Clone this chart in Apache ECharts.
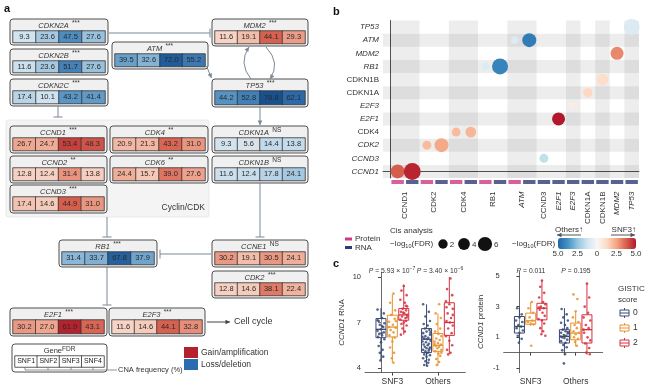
<!DOCTYPE html>
<html><head><meta charset="utf-8">
<script src="https://cdn.jsdelivr.net/npm/echarts@6/dist/echarts.min.js"></script>
<style>html,body{margin:0;padding:0;background:#fff}#c{width:650px;height:389px}</style>
</head><body><div id="c"></div><script>
const FONT = '"Liberation Sans", Arial, sans-serif';

// ---------------- Panel a data ----------------
const snfCols = ['SNF1','SNF2','SNF3','SNF4'];
const aGenes = ['CDKN2A','CDKN2B','CDKN2C','ATM','MDM2','TP53','CCND1','CDK4','CCND2','CDK6','CCND3','CDKN1A','CDKN1B','RB1','CCNE1','CDK2','E2F1','E2F3'];
const aType  = ['loss','loss','loss','loss','gain','loss','gain','gain','gain','gain','gain','loss','loss','loss','gain','gain','gain','gain'];
const aSig   = ['***','***','***','***','***','***','***','**','**','**','***','NS','NS','***','NS','***','***','***'];
const aFreq  = [
  [9.3,23.6,47.5,27.6],[11.6,23.6,51.7,27.6],[17.4,10.1,43.2,41.4],[39.5,32.6,72.0,55.2],
  [11.6,19.1,44.1,29.3],[44.2,52.8,78.8,62.1],[26.7,24.7,53.4,48.3],[20.9,21.3,43.2,31.0],
  [12.8,12.4,31.4,13.8],[24.4,15.7,39.0,27.6],[17.4,14.6,44.9,31.0],[9.3,5.6,14.4,13.8],
  [11.6,12.4,17.8,24.1],[31.4,33.7,67.8,37.9],[30.2,19.1,30.5,24.1],[12.8,14.6,38.1,22.4],
  [30.2,27.0,61.9,43.1],[11.6,14.6,44.1,32.8]
];

// ---------------- Panel b data ----------------
const bRows = ['CCND1','CCND3','CDK2','CDK4','E2F1','E2F3','CDKN1A','CDKN1B','RB1','MDM2','ATM','TP53'];
const bCols = ['CCND1','CCND1','CDK2','CDK2','CDK4','CDK4','RB1','RB1','ATM','ATM','CCND3','E2F1','E2F3','CDKN1A','CDKN1B','MDM2','TP53'];
const bColType = ['Protein','RNA','Protein','RNA','Protein','RNA','Protein','RNA','Protein','RNA','RNA','RNA','RNA','RNA','RNA','RNA','RNA'];
const bLogFDR = [5.8,8.3,1.6,5.8,1.6,3.2,0.8,7.5,0.3,5.8,1.6,5.0,0.8,2.0,4.0,5.0,7.5];
const bEffect = [3.8,4.8,2.0,2.4,2.0,2.1,-0.9,-4.2,-0.8,-4.4,-1.5,5.0,0.5,1.3,1.1,3.0,-0.9];
const bSizeLegend = [2,4,6];
const bColorTicks = ['5.0','2.5','0','2.5','5.0'];

// ---------------- Panel c data ----------------
const cGroups = ['SNF3','Others'];
const gisticLevels = ['0','1','2'];
// [low whisker, Q1, median, Q3, high whisker] for SNF3, Others
const rnaBox0 = [[4.5,6.0,6.55,7.26,7.95],[4.15,5.02,5.9,6.6,8.2]];
const rnaBox1 = [[4.37,6.05,6.7,7.48,8.85],[4.15,5.1,5.5,6.28,7.6]];
const rnaBox2 = [[6.2,7.15,7.5,7.92,9.5],[4.95,6.15,7.0,8.3,10.0]];
const protBox0 = [[0.63,1.28,1.71,2.36,2.94],[-0.13,0.63,1.06,1.5,2.9]];
const protBox1 = [[1.75,1.85,2.08,2.58,3.3],[0.41,0.84,1.28,1.93,2.68]];
const protBox2 = [[1.28,2.14,2.9,3.22,4.74],[-0.13,0.63,1.5,2.47,4.52]];
const rnaP = ['5.93','−7','3.40','−6'];
const protP = ['0.011','0.195'];
// jittered points: [group position + jitter, value]
const rnaPts0 = [[-0.3,7.85],[0.25,7.6],[0.1,7.3],[-0.2,7.1],[0.3,6.95],[-0.1,6.85],[0.2,6.7],[0.0,6.55],[-0.3,6.45],[0.25,6.35],[-0.15,6.25],[0.1,6.15],[-0.25,6.05],[0.3,5.9],[0.0,5.7],[-0.2,5.45],[0.15,5.2],[-0.1,5.0],[0.2,4.75],[-0.05,4.5],[0.1,6.75],[-0.3,7.15],[0.05,6.3],
 [3.7,8.2],[4.2,7.7],[3.9,7.4],[4.3,7.1],[3.75,6.9],[4.1,6.8],[3.85,6.6],[4.25,6.5],[4.0,6.4],[3.7,6.3],[4.3,6.2],[3.9,6.1],[4.15,6.0],[3.8,5.95],[4.05,5.9],[4.35,5.8],[3.65,5.75],[3.95,5.7],[4.2,5.6],[3.75,5.55],[4.1,5.5],[3.85,5.4],[4.3,5.35],[4.0,5.3],[3.7,5.2],[4.2,5.15],[3.9,5.1],[4.1,5.0],[3.8,4.9],[4.3,4.85],[4.0,4.75],[3.7,4.65],[4.2,4.55],[3.9,4.45],[4.15,4.35],[3.8,4.2],[4.05,4.15],[4.35,6.35],[3.65,6.05],[4.25,5.25]];
const rnaPts1 = [[1.1,8.9],[0.8,8.3],[1.25,7.8],[0.9,7.5],[1.2,7.25],[0.7,7.05],[1.05,6.85],[1.3,6.65],[0.85,6.5],[1.1,6.35],[0.75,6.15],[1.2,6.0],[1.0,5.75],[0.8,5.35],[1.15,5.0],[0.95,4.65],[1.1,4.35],[1.3,7.1],[0.7,6.7],
 [5.1,8.2],[4.8,7.6],[5.25,7.3],[4.9,6.9],[5.2,6.6],[4.75,6.4],[5.05,6.25],[5.3,6.1],[4.85,5.95],[5.15,5.85],[4.7,5.75],[5.0,5.65],[5.25,5.55],[4.8,5.45],[5.1,5.4],[4.95,5.3],[5.3,5.2],[4.75,5.1],[5.05,4.95],[5.2,4.8],[4.85,4.6],[5.1,4.4],[4.9,4.2],[5.3,5.0],[4.7,5.6]];
const rnaPts2 = [[2.0,9.4],[1.8,9.1],[2.25,8.8],[1.7,8.5],[2.1,8.3],[2.3,8.05],[1.9,7.9],[2.2,7.8],[1.75,7.7],[2.05,7.6],[2.3,7.5],[1.85,7.4],[2.15,7.3],[1.7,7.2],[2.2,7.1],[2.0,7.0],[1.8,6.9],[2.25,6.8],[1.9,6.6],[2.1,6.4],[1.75,6.2],[2.3,7.35],[1.95,7.65],[2.2,8.1],
 [6.1,9.9],[5.8,9.2],[6.25,8.8],[5.7,8.4],[6.0,8.2],[6.3,7.9],[5.85,7.6],[6.15,7.3],[5.75,7.1],[6.05,7.0],[6.3,6.8],[5.9,6.6],[6.2,6.3],[5.7,6.1],[6.0,5.8],[6.25,5.5],[5.8,5.2],[6.1,5.0],[5.9,4.9],[6.3,7.5],[5.75,8.0]];
const protPts0 = [[-0.2,2.9],[0.2,2.5],[0.0,2.3],[-0.3,2.1],[0.25,2.0],[-0.1,1.8],[0.15,1.7],[-0.25,1.6],[0.3,1.45],[0.0,1.3],[-0.15,1.1],[0.2,0.9],[-0.05,0.65],
 [3.75,2.85],[4.2,2.5],[3.9,2.3],[4.3,2.1],[3.7,1.95],[4.05,1.8],[4.25,1.6],[3.85,1.5],[4.1,1.4],[3.7,1.3],[4.3,1.25],[3.95,1.15],[4.15,1.1],[3.8,1.0],[4.0,0.95],[4.25,0.85],[3.7,0.75],[4.1,0.65],[3.9,0.5],[4.2,0.35],[3.8,0.15],[4.05,-0.1],[3.95,-0.7],[4.3,1.35],[3.65,1.05]];
const protPts1 = [[1.1,3.3],[0.8,2.9],[1.2,2.6],[0.9,2.3],[1.15,2.1],[0.75,2.0],[1.0,1.9],[1.25,1.85],[1.05,0.45],
 [4.8,3.8],[5.15,3.5],[5.0,2.7],[4.75,2.3],[5.25,2.0],[4.9,1.8],[5.1,1.6],[4.8,1.4],[5.3,1.3],[5.0,1.2],[4.85,1.0],[5.2,0.9],[4.95,0.7],[5.1,0.45]];
const protPts2 = [[2.0,4.7],[1.85,4.3],[2.2,3.9],[1.75,3.6],[2.1,3.3],[2.3,3.15],[1.9,3.0],[2.15,2.9],[1.8,2.8],[2.05,2.6],[2.25,2.4],[1.7,2.2],[2.0,2.1],[2.2,1.9],[1.85,1.6],[2.1,1.4],[1.95,1.2],[2.3,1.1],[1.75,2.95],
 [6.0,4.5],[6.2,3.6],[5.8,3.0],[6.1,2.6],[5.7,2.3],[6.3,2.1],[5.9,1.8],[6.15,1.6],[5.75,1.3],[6.05,1.0],[6.3,0.8],[5.85,0.6],[6.2,0.3],[5.95,0.0],[6.25,-0.1],[5.7,1.5]];

// ---------------- layout / style ----------------
const aBox = {
  CDKN2A:[10,19,98,26], CDKN2B:[10,49,98,26], CDKN2C:[10,79,98,27], ATM:[112,42,96,27],
  MDM2:[212,19,96,27], TP53:[212,79,96,28], CCND1:[10,126,97,27], CDK4:[110,126,98,27],
  CCND2:[10,156,97,27], CDK6:[110,156,98,27], CCND3:[10,185,97,28], CDKN1A:[212,126,96,27],
  CDKN1B:[212,156,96,27], RB1:[59,240,98,27], CCNE1:[212,240,96,27], CDK2:[212,271,96,27],
  E2F1:[10,308,97,28], E2F3:[109,308,96,28]
};
const bShadedGenes = ['CCND1','CDK4','ATM','E2F3','CDKN1B','TP53'];
const LC = '#7b8797';
const TXT = '#333';
const lvlColors = ['#3a4a74','#e8922e','#d52f3d'];
const typeColors = {Protein:'#cf3a82', RNA:'#2f3a78'};

const G = [];
function rect(x,y,w,h,fill,stroke,r,lw,z){G.push({type:'rect',shape:{x:x,y:y,width:w,height:h,r:r||0},style:{fill:fill,stroke:stroke||null,lineWidth:lw||0},z:z||0,silent:true});}
function line(x1,y1,x2,y2,stroke,lw){G.push({type:'line',shape:{x1:x1,y1:y1,x2:x2,y2:y2},style:{stroke:stroke||LC,lineWidth:lw||1},silent:true,z:1});}
function text(x,y,t,o){G.push({type:'text',x:x,y:y,style:Object.assign({text:t,fontFamily:FONT,fontSize:8,fill:TXT,align:'left',verticalAlign:'middle'},o||{}),silent:true,z:3});}
function head(x,y,ang,col){const s=4.5,w=2.3;const bx=x-Math.cos(ang)*s,by=y-Math.sin(ang)*s;
  G.push({type:'polygon',shape:{points:[[x,y],[bx-Math.sin(ang)*w,by+Math.cos(ang)*w],[bx+Math.sin(ang)*w,by-Math.cos(ang)*w]]},style:{fill:col||LC},silent:true,z:1});}
function arrow(x1,y1,x2,y2,col){line(x1,y1,x2,y2,col);head(x2,y2,Math.atan2(y2-y1,x2-x1),col);}
function tbar(x1,y1,x2,y2){line(x1,y1,x2,y2);const dx=x2-x1,dy=y2-y1,L=Math.hypot(dx,dy),nx=-dy/L*4.5,ny=dx/L*4.5;line(x2+nx,y2+ny,x2-nx,y2-ny);}

const grids=[],xAxes=[],yAxes=[],series=[];
function addGrid(g,x,y){grids.push(g);const i=grids.length-1;x.gridIndex=i;y.gridIndex=i;xAxes.push(x);yAxes.push(y);return i;}

// ---------- Panel a ----------
text(4,9,'a',{fontSize:11,fontWeight:'bold',fill:'#111'});
rect(6,120,203,97,'#f4f4f4','#e6e6e6',2,0.8,-2);
text(205,208,'Cyclin/CDK',{align:'right',fontSize:8.5});
const titleRich = {g:{fontSize:7.5,fontStyle:'italic',fill:TXT,lineHeight:10,verticalAlign:'middle',fontFamily:FONT},
                   s:{fontSize:6.5,fill:TXT,lineHeight:7,verticalAlign:'top',fontFamily:FONT},
                   n:{fontSize:7.5,fill:TXT,lineHeight:10,verticalAlign:'middle',fontFamily:FONT}};
const aSeriesIdx = [];
aGenes.forEach(function(g,i){
  const b = aBox[g];
  rect(b[0],b[1],b[2],b[3],'#f0f0f0','#4f4f4f',3,1,-1);
  G.push({type:'text',x:b[0]+b[2]/2,y:b[1]+6.5,style:{text:'{g|'+g+'} {s|'+aSig[i]+'}',rich:titleRich,align:'center',verticalAlign:'middle'},silent:true,z:3});
  const gi = addGrid({left:b[0]+3,top:b[1]+12,width:b[2]-6,height:b[3]-14.5},
    {type:'category',data:snfCols,show:false},{type:'category',data:[g],show:false});
  aSeriesIdx.push(series.length);
  series.push({type:'heatmap',xAxisIndex:gi,yAxisIndex:gi,silent:true,z:5,
    data:aFreq[i].map(function(v,j){return [j,0,aType[i]==='gain'?v:-v];}),
    itemStyle:{borderColor:'#333',borderWidth:0.8},
    label:{show:true,fontSize:7.5,color:'#2a2a2a',fontFamily:FONT,formatter:function(p){return Math.abs(p.value[2]).toFixed(1);}},
    emphasis:{disabled:true}});
});
// gene legend box
rect(12,344,95,28,'#ffffff','#4f4f4f',3,1,-1);
G.push({type:'text',x:59.5,y:351,style:{text:'{n|Gene}{s|FDR}',rich:titleRich,align:'center',verticalAlign:'middle'},silent:true,z:3});
const lgi = addGrid({left:15,top:356,width:89,height:11},{type:'category',data:snfCols,show:false},{type:'category',data:['Gene'],show:false});
series.push({type:'heatmap',xAxisIndex:lgi,yAxisIndex:lgi,silent:true,z:5,
  data:snfCols.map(function(s,j){return {value:[j,0,0],itemStyle:{color:'#fff'}};}),
  itemStyle:{borderColor:'#333',borderWidth:0.8,color:'#fff'},
  label:{show:true,fontSize:7,color:'#222',fontFamily:FONT,formatter:function(p){return snfCols[p.value[0]];}},
  emphasis:{disabled:true}});
// bracket
line(25,370,93,370,'#777',0.8);[25,48,71,93].forEach(function(x){line(x,367.5,x,370,'#777',0.8);});
line(93,370,117,370,'#777',0.8);
text(118,370,'CNA frequency (%)',{fontSize:7.5});
// gain/loss legend
rect(184,347,14,11,'#b5202e',null,0,0,1);
rect(184,359,14,11,'#2b6cb0',null,0,0,1);
text(201,352.5,'Gain/amplification',{fontSize:8.5});
text(201,364.5,'Loss/deletion',{fontSize:8.5});
// connectors
tbar(109,33,210,33);
arrow(206.5,66,211.5,78);
G.push({type:'bezierCurve',shape:{x1:251,y1:79,x2:249,y2:47,cpx1:238,cpy1:63},style:{stroke:LC,fill:'none',lineWidth:1},silent:true,z:1});
head(249,47,Math.atan2(47-63,249-238));
G.push({type:'bezierCurve',shape:{x1:266,y1:47,x2:270,y2:79,cpx1:281,cpy1:63},style:{stroke:LC,fill:'none',lineWidth:1},silent:true,z:1});
head(270,79,Math.atan2(79-63,270-281));
arrow(260,107,260,125);
tbar(58,106,58,117);
tbar(260,183,260,237);
tbar(107,217,107,237);
tbar(211,254,160,254);
tbar(107,267,107,305);
arrow(207,322,230,322,'#444');
text(234,322,'Cell cycle',{fontSize:9});

// ---------- Panel b ----------
text(333,12,'b',{fontSize:11,fontWeight:'bold',fill:'#111'});
const bIdx = addGrid({left:383,top:20.5,width:256,height:157.5},
  {type:'value',min:-0.5,max:17,axisLine:{show:true,lineStyle:{color:'#555',width:1}},axisTick:{show:false},axisLabel:{show:false},splitLine:{show:false}},
  {type:'value',min:-0.5,max:11.5,axisLine:{show:true,lineStyle:{color:'#555',width:1}},axisTick:{show:false},splitLine:{show:false},
   axisLabel:{customValues:bRows.map(function(r,i){return i;}),fontSize:8,color:TXT,fontFamily:FONT,margin:4,
     formatter:function(v){const n=bRows[Math.round(v)];return (['CDKN1B','CDKN1A','CDK4'].indexOf(n)>=0)?n:'{i|'+n+'}';},
     rich:{i:{fontStyle:'italic',fontSize:8,color:TXT,fontFamily:FONT}}}});
const rowBands = bRows.map(function(r,i){return i;}).filter(function(i){return i%2===0;}).map(function(i){return [{yAxis:i-0.5},{yAxis:i+0.5}];});
const geneOrder = []; bCols.forEach(function(g){if(geneOrder.indexOf(g)<0)geneOrder.push(g);});
const geneCenter = geneOrder.map(function(g){let s=0,n=0;bCols.forEach(function(c,i){if(c===g){s+=i+0.5;n++;}});return s/n;});
const geneSpan = geneOrder.map(function(g){const idx=[];bCols.forEach(function(c,i){if(c===g)idx.push(i);});return [idx[0],idx[idx.length-1]+1];});
const colBands = geneSpan.filter(function(s,i){return bShadedGenes.indexOf(geneOrder[i])>=0;}).map(function(s){return [{xAxis:s[0]},{xAxis:s[1]}];});
series.push({type:'scatter',xAxisIndex:bIdx,yAxisIndex:bIdx,data:[],silent:true,z:1,
  markArea:{silent:true,itemStyle:{color:'rgba(0,0,0,0.07)'},data:rowBands.concat(colBands)}});
const bScatterIdx = series.length;
series.push({type:'scatter',xAxisIndex:bIdx,yAxisIndex:bIdx,z:4,silent:true,
  data:bCols.map(function(g,i){return [i+0.5,bRows.indexOf(g),bLogFDR[i],bEffect[i]];}),
  symbolSize:function(d){return 7+1.2*d[2];},itemStyle:{opacity:1}});
// type bars + x labels
const b2 = addGrid({left:383,top:179.5,width:256,height:5},
  {type:'value',min:-0.5,max:17,axisLine:{show:false},axisTick:{show:false},splitLine:{show:false},
   axisLabel:{customValues:geneCenter,rotate:90,margin:7,fontSize:8,color:TXT,fontFamily:FONT,
     formatter:function(v){let k=0,best=1e9;geneCenter.forEach(function(c,i){if(Math.abs(c-v)<best){best=Math.abs(c-v);k=i;}});const n=geneOrder[k];
       return (['ATM','E2F1','E2F3','MDM2','TP53'].indexOf(n)>=0)?'{i|'+n+'}':n;},
     rich:{i:{fontStyle:'italic',fontSize:8,color:TXT,fontFamily:FONT}}}},
  {type:'value',min:-1,max:1,show:false});
series.push({type:'scatter',xAxisIndex:b2,yAxisIndex:b2,silent:true,symbol:'rect',symbolSize:[12.4,4],
  data:bCols.map(function(g,i){return {value:[i+0.5,0],itemStyle:{color:typeColors[bColType[i]]}};})});
// legends b
rect(345,237.5,7,3,typeColors.Protein,null,0,0,1);
rect(345,246,7,3,typeColors.RNA,null,0,0,1);
text(355,239,'Protein',{fontSize:8});
text(355,247.5,'RNA',{fontSize:8});
text(390,231,'Cis analysis',{fontSize:8});
const subRich = {a:{fontSize:8,fill:TXT,lineHeight:10,verticalAlign:'middle',fontFamily:FONT},
                 b:{fontSize:5.5,fill:TXT,lineHeight:6,verticalAlign:'bottom',fontFamily:FONT}};
G.push({type:'text',x:390,y:244,style:{text:'{a|−log}{b|10}{a|(FDR)}',rich:subRich,align:'left',verticalAlign:'middle'},silent:true,z:3});
G.push({type:'text',x:512,y:244,style:{text:'{a|−log}{b|10}{a|(FDR)}',rich:subRich,align:'left',verticalAlign:'middle'},silent:true,z:3});
const sizeLegX = [443,464,485];
bSizeLegend.forEach(function(v,i){const d=7+1.2*v;G.push({type:'circle',shape:{cx:sizeLegX[i],cy:244,r:d/2},style:{fill:'#111'},silent:true,z:3});
  text(sizeLegX[i]+d/2+2,244.5,String(v),{fontSize:8});});
text(555,230,'Others↑',{fontSize:8});
text(636,230,'SNF3↑',{fontSize:8,align:'right'});
arrow(581,235,557,235,'#555');
arrow(611,235,635,235,'#555');
const cbX=[558,577.5,597,616.5,636];
bColorTicks.forEach(function(t,i){text(cbX[i],254,t,{fontSize:8,align:'center'});});

// ---------- Panel c ----------
text(333,264,'c',{fontSize:11,fontWeight:'bold',fill:'#111'});
function boxRender(params,api){
  const x=api.value(0),lv=api.value(6),c=lvlColors[lv];
  const pLo=api.coord([x,api.value(1)]),pQ1=api.coord([x,api.value(2)]),pMd=api.coord([x,api.value(3)]),pQ3=api.coord([x,api.value(4)]),pHi=api.coord([x,api.value(5)]);
  const hw=5;
  return {type:'group',children:[
    {type:'line',shape:{x1:pHi[0],y1:pHi[1],x2:pQ3[0],y2:pQ3[1]},style:{stroke:c,lineWidth:1}},
    {type:'line',shape:{x1:pQ1[0],y1:pQ1[1],x2:pLo[0],y2:pLo[1]},style:{stroke:c,lineWidth:1}},
    {type:'rect',shape:{x:pQ3[0]-hw,y:pQ3[1],width:2*hw,height:pQ1[1]-pQ3[1]},style:{fill:'rgba(255,255,255,0.25)',stroke:c,lineWidth:1}},
    {type:'line',shape:{x1:pMd[0]-hw,y1:pMd[1],x2:pMd[0]+hw,y2:pMd[1]},style:{stroke:c,lineWidth:1.3}}]};
}
function cPanel(grid,yMin,yMax,yTicks,yName,boxes,pts){
  const gi = addGrid(grid,
    {type:'value',min:-1.4,max:7.4,axisLine:{show:true,lineStyle:{color:'#444',width:0.8}},splitLine:{show:false},
     axisTick:{customValues:[1,5],length:3,lineStyle:{color:'#444'}},
     axisLabel:{customValues:[1,5],fontSize:8.5,color:TXT,fontFamily:FONT,margin:5,formatter:function(v){return v<3?cGroups[0]:cGroups[1];}}},
    {type:'value',min:yMin,max:yMax,axisLine:{show:true,lineStyle:{color:'#444',width:0.8}},splitLine:{show:false},
     axisTick:{customValues:yTicks,length:3,lineStyle:{color:'#444'}},
     axisLabel:{customValues:yTicks,fontSize:7.5,color:TXT,fontFamily:FONT,margin:4},
     name:yName,nameLocation:'middle',nameRotate:90,nameGap:19,
     nameTextStyle:{fontSize:8,color:TXT,fontFamily:FONT,rich:{i:{fontStyle:'italic',fontSize:8,color:TXT,fontFamily:FONT}}}});
  const bdata=[];
  boxes.forEach(function(bl,lv){bl.forEach(function(b,gIdx){bdata.push([gIdx*4+lv].concat(b).concat([lv]));});});
  series.push({type:'custom',xAxisIndex:gi,yAxisIndex:gi,silent:true,z:3,renderItem:boxRender,data:bdata,encode:{x:0,y:[1,5]}});
  pts.forEach(function(p,lv){series.push({type:'scatter',xAxisIndex:gi,yAxisIndex:gi,silent:true,z:4,data:p,symbolSize:2.6,itemStyle:{color:lvlColors[lv],opacity:0.85}});});
  return gi;
}
cPanel({left:365,top:272.4,width:100.3,height:100.2},3.7,10.3,[4,7,10],'{i|CCND1} RNA',[rnaBox0,rnaBox1,rnaBox2],[rnaPts0,rnaPts1,rnaPts2]);
cPanel({left:503.7,top:271.4,width:99,height:101.2},-1.3,5.3,[-1,1,3,5],'{i|CCND1} protein',[protBox0,protBox1,protBox2],[protPts0,protPts1,protPts2]);
const pRich = {i:{fontStyle:'italic',fontSize:6.8,fill:TXT,lineHeight:9,verticalAlign:'middle',fontFamily:FONT},
               a:{fontSize:6.8,fill:TXT,lineHeight:9,verticalAlign:'middle',fontFamily:FONT},
               e:{fontSize:5,fill:TXT,lineHeight:5,verticalAlign:'top',fontFamily:FONT}};
function ptext(x,y,s){G.push({type:'text',x:x,y:y,style:{text:s,rich:pRich,align:'center',verticalAlign:'middle'},silent:true,z:3});}
ptext(392,271,'{i|P}{a| = '+rnaP[0]+' × 10}{e|'+rnaP[1]+'}');
ptext(440,271,'{i|P}{a| = '+rnaP[2]+' × 10}{e|'+rnaP[3]+'}');
ptext(531,271,'{i|P}{a| = '+protP[0]+'}');
ptext(576,271,'{i|P}{a| = '+protP[1]+'}');
// GISTIC legend
text(618,289,'GISTIC',{fontSize:8});
text(618,300,'score',{fontSize:8});
[313,328,343].forEach(function(y,i){const c=lvlColors[i];
  G.push({type:'rect',shape:{x:620,y:y-3,width:9,height:6},style:{fill:'none',stroke:c,lineWidth:1},silent:true,z:3});
  line(620,y,629,y,c,1);line(624.5,y-5,624.5,y-3,c,1);line(624.5,y+3,624.5,y+5,c,1);
  text(633,y,gisticLevels[i],{fontSize:8.5});});

const option = {
  animation:false,
  textStyle:{fontFamily:FONT},
  grid:grids, xAxis:xAxes, yAxis:yAxes, series:series,
  visualMap:[
    {type:'continuous',show:false,min:-80,max:80,dimension:2,seriesIndex:aSeriesIdx,
     inRange:{color:['#184f8c','#2b69a8','#5592c2','#9dc3de','#d3e4f0','#f8dcd0','#efa690','#d7604f','#b2222d','#8f0f1f']}},
    {type:'continuous',show:true,min:-5,max:5,dimension:3,seriesIndex:[bScatterIdx],orient:'horizontal',
     left:558,top:238,itemWidth:11,itemHeight:78,padding:0,calculable:false,text:null,
     inRange:{color:['#2166ac','#4393c3','#92c5de','#d1e5f0','#f7f7f7','#fddbc7','#f4a582','#d6604d','#b2182b']}}
  ],
  graphic:{elements:G}
};
const chart = echarts.init(document.getElementById('c'),null,{renderer:'canvas'});
chart.setOption(option);
</script></body></html>
